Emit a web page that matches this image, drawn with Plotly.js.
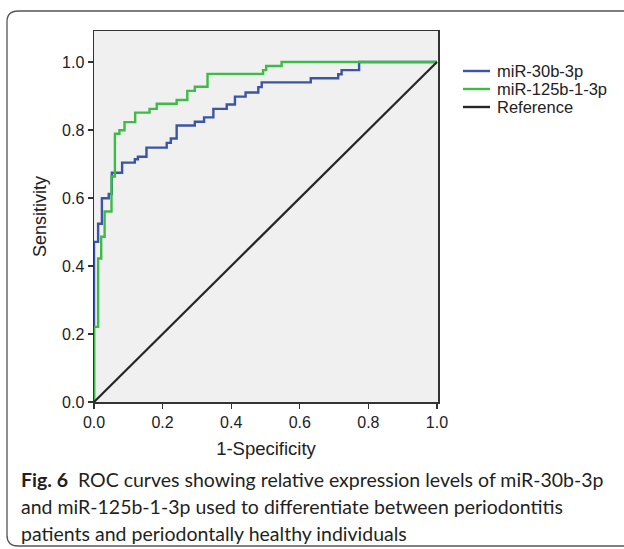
<!DOCTYPE html>
<html>
<head>
<meta charset="utf-8">
<script src="https://cdn.plot.ly/plotly-3.0.1.min.js"></script>
<style>
html,body{margin:0;padding:0;background:#fff;}
#chart{width:624px;height:549px;}
</style>
</head>
<body>
<div id="chart"></div>
<script>
// miR-30b-3p ROC (step corners, 'hv')
const fpr30 = [0,0,0.012,0.023,0.043,0.052,0.082,0.119,0.128,0.153,0.212,0.224,0.241,0.294,0.321,0.348,0.387,0.411,0.442,0.479,0.489,0.632,0.712,0.722,0.773,1];
const tpr30 = [0,0.471,0.524,0.599,0.612,0.674,0.704,0.714,0.721,0.748,0.762,0.775,0.813,0.824,0.837,0.862,0.875,0.898,0.910,0.926,0.940,0.952,0.964,0.976,1.0,1.0];
// miR-125b-1-3p ROC
const fpr125 = [0,0,0.012,0.021,0.031,0.051,0.061,0.074,0.089,0.120,0.162,0.183,0.241,0.272,0.294,0.331,0.493,0.502,0.547,1];
const tpr125 = [0,0.221,0.422,0.486,0.560,0.663,0.789,0.799,0.823,0.851,0.862,0.877,0.888,0.915,0.927,0.965,0.976,0.988,1.0,1.0];
// Reference diagonal
const refX = [0,1];
const refY = [0,1];
const tickVals = [0,0.2,0.4,0.6,0.8,1.0];
const tickText = ['0.0','0.2','0.4','0.6','0.8','1.0'];
const seriesNames = ['miR-30b-3p','miR-125b-1-3p','Reference'];
const seriesColors = ['#3a54a7','#3cbc47','#262626'];
const captionLines = [
  '<b>Fig. 6</b>  ROC curves showing relative expression levels of miR-30b-3p',
  'and miR-125b-1-3p used to differentiate between periodontitis',
  'patients and periodontally healthy individuals'
];

const FAM = 'Liberation Sans, Arial, sans-serif';
const axFont = {family:FAM, size:16, color:'#222'};
const traces = [
  {x:fpr30, y:tpr30, name:seriesNames[0], mode:'lines', line:{shape:'hv', color:seriesColors[0], width:2.4}},
  {x:fpr125, y:tpr125, name:seriesNames[1], mode:'lines', line:{shape:'hv', color:seriesColors[1], width:2.4}},
  {x:refX, y:refY, name:seriesNames[2], mode:'lines', line:{color:seriesColors[2], width:2.2}}
];

// plot area in px: x 94..438, y 31..402
const PW = 344, PH = 371;
function px(x){return (x-94)/PW;}
function py(y){return (402-y)/PH;}
const L=px(7), R=px(660), T=py(11), B=py(546), rx=11/PW, ry=11/PH;
const framePath = `M ${R},${T} L ${L+rx},${T} Q ${L},${T} ${L},${T-ry} L ${L},${B+ry} Q ${L},${B} ${L+rx},${B} L ${R},${B}`;

const captionY = [479, 506, 533];
const annotations = captionLines.map((t,i)=>({
  text:t, xref:'paper', yref:'paper', x:px(19), y:py(captionY[i]),
  xanchor:'left', yanchor:'middle', showarrow:false,
  font:{family:'Lato, "Open Sans", sans-serif', size:19.5, color:'#231f20'}
}));
// legend drawn as key lines + labels
const legY = [71, 89, 107];
const shapes = [{type:'path', xref:'paper', yref:'paper', path:framePath, line:{color:'#555', width:1.3}, layer:'below'}];
seriesNames.forEach((n,i)=>{
  shapes.push({type:'line', xref:'paper', yref:'paper', x0:px(463), x1:px(490), y0:py(legY[i]), y1:py(legY[i]),
    line:{color:seriesColors[i], width:2.4}});
  annotations.push({text:n, xref:'paper', yref:'paper', x:px(495), y:py(legY[i]), xanchor:'left', yanchor:'middle',
    showarrow:false, font:{family:FAM, size:16.5, color:'#222'}});
});

const layout = {
  width:624, height:549,
  margin:{l:94, r:186, t:31, b:147},
  paper_bgcolor:'#ffffff', plot_bgcolor:'#f0f0f0',
  showlegend:false,
  xaxis:{range:[0,1.003], tickvals:tickVals, ticktext:tickText, ticks:'outside', ticklen:5, tickwidth:1.3, tickcolor:'#333',
    showline:true, linecolor:'#333', linewidth:1.5, mirror:true, showgrid:false, zeroline:false, tickfont:axFont,
    title:{text:'1-Specificity', font:{family:FAM, size:18.5, color:'#222'}, standoff:12}},
  yaxis:{range:[0,1.091], tickvals:tickVals, ticktext:tickText, ticks:'outside', ticklen:5, tickwidth:1.3, tickcolor:'#333',
    showline:true, linecolor:'#333', linewidth:1.5, mirror:true, showgrid:false, zeroline:false, tickfont:axFont,
    title:{text:'Sensitivity', font:{family:FAM, size:18, color:'#222'}, standoff:10}},
  shapes:shapes,
  annotations:annotations
};
Plotly.newPlot('chart', traces, layout, {displayModeBar:false, staticPlot:true});
</script>
</body>
</html>
